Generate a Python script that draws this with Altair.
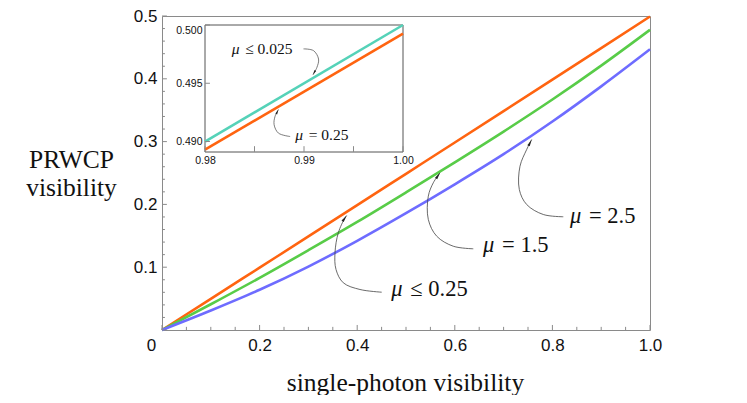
import altair as alt
import pandas as pd

# ---------------- data ----------------
vis_x = [0.0, 0.1, 0.2, 0.3, 0.4, 0.5, 0.6, 0.7, 0.8, 0.9, 1.0]
prwcp_mu_le_025 = [0.0, 0.0496, 0.0993, 0.1490, 0.1988, 0.2487, 0.2986, 0.3486, 0.3987, 0.4489, 0.4992]
prwcp_mu_15 = [0.0, 0.041, 0.083, 0.127, 0.172, 0.219, 0.267, 0.316, 0.367, 0.421, 0.478]
prwcp_mu_25 = [0.0, 0.031, 0.064, 0.101, 0.142, 0.186, 0.232, 0.280, 0.332, 0.388, 0.447]

inset_x = [0.98, 1.00]
inset_mu_le_0025 = [0.4900, 0.5000]
inset_mu_025 = [0.4893, 0.49925]

series_names = ["mu<=0.25", "mu=1.5", "mu=2.5", "mu<=0.025", "mu=0.25"]
series_colors = ["#ff6410", "#58cc48", "#6e6cff", "#55d2b8", "#ff6410"]

main_x_ticks = [0.0, 0.2, 0.4, 0.6, 0.8, 1.0]
main_x_minor = [0.05, 0.1, 0.15, 0.25, 0.3, 0.35, 0.45, 0.5, 0.55, 0.65, 0.7, 0.75, 0.85, 0.9, 0.95]
main_y_ticks = [0.0, 0.1, 0.2, 0.3, 0.4, 0.5]
main_y_minor = [0.02, 0.04, 0.06, 0.08, 0.12, 0.14, 0.16, 0.18, 0.22, 0.24, 0.26, 0.28,
                0.32, 0.34, 0.36, 0.38, 0.42, 0.44, 0.46, 0.48]
inset_x_ticks = [0.98, 0.99, 1.00]
inset_x_minor = [0.985, 0.995]
inset_y_ticks = [0.490, 0.495, 0.500]

# annotation labels (main)
ann_rest = ["≤ 0.25", "= 1.5", "= 2.5"]
ann_x = [0.470, 0.658, 0.836]
ann_y = [0.0645, 0.1346, 0.1823]
# annotation labels (inset)
iann_rest = ["≤ 0.025", "= 0.25"]
iann_x = [0.9827, 0.98911]
iann_y = [0.49795, 0.49058]

# arrow paths (main), last point = tip
arrows_main = [
    ([0.4502, 0.4057, 0.3715, 0.3566, 0.3545, 0.3613, 0.3750, 0.3785],
     [0.0602, 0.0645, 0.0752, 0.0963, 0.1229, 0.1548, 0.1787, 0.1823]),
    ([0.6379, 0.5969, 0.5629, 0.5457, 0.5457, 0.5559, 0.5697],
     [0.1293, 0.1334, 0.1494, 0.1760, 0.2131, 0.2344, 0.2503]),
    ([0.8223, 0.7814, 0.7473, 0.7322, 0.7336, 0.7473, 0.7576],
     [0.1803, 0.1839, 0.1998, 0.2237, 0.2608, 0.2874, 0.3033]),
]
arrow_main_angles = [36, 34, 27]
arrows_inset = [
    ([0.98995, 0.99096, 0.99147, 0.99130, 0.99090],
     [0.49795, 0.49780, 0.49708, 0.49635, 0.49572]),
    ([0.98860, 0.98742, 0.98698, 0.98708, 0.98742],
     [0.49043, 0.49072, 0.49145, 0.49217, 0.49275]),
]
arrow_inset_angles = [209, 26]

# ---------------- tables ----------------
main_df = pd.DataFrame({
    "x": vis_x * 3,
    "y": prwcp_mu_le_025 + prwcp_mu_15 + prwcp_mu_25,
    "series": [series_names[0]] * 11 + [series_names[1]] * 11 + [series_names[2]] * 11,
})
inset_df = pd.DataFrame({
    "x": inset_x * 2,
    "y": inset_mu_le_0025 + inset_mu_025,
    "series": [series_names[3]] * 2 + [series_names[4]] * 2,
})


def path_df(paths):
    rows = []
    for k, (xs, ys) in enumerate(paths):
        for i, (a, b) in enumerate(zip(xs, ys)):
            rows.append({"id": k, "i": i, "x": a, "y": b})
    return pd.DataFrame(rows)


def head_df(paths, angles):
    return pd.DataFrame({"x": [p[0][-1] for p in paths],
                         "y": [p[1][-1] for p in paths],
                         "ang": angles})


W, H = 488, 314
MX = alt.Scale(domain=[0, 1], nice=False, zero=False)
MY = alt.Scale(domain=[0, 0.5], nice=False, zero=False)
IX = alt.Scale(domain=[inset_x[0], inset_x[-1]], range=[43, 241], nice=False, zero=False)
IY = alt.Scale(domain=[0.4891, 0.5], range=[136, 9], nice=False, zero=False)
COL = alt.Scale(domain=series_names, range=series_colors)

SANS = "Liberation Sans"
SERIF = "Liberation Serif"
AXIS_GRAY = "#8a8a8a"
ARROW = "M0,0L0.38,2L-0.38,2Z"

main_lines = alt.Chart(main_df).mark_line(strokeWidth=2.6, interpolate="monotone").encode(
    x=alt.X("x:Q", scale=MX, axis=alt.Axis(
        values=main_x_ticks,
        labelExpr="datum.value == 0 ? '0' : format(datum.value, '.1f')",
        labelOffset={"condition": {"test": "datum.value === 0", "value": -11}, "value": 0},
        ticks=False, domain=False, grid=False, labelFlush=False,
        labelFont=SANS, labelFontSize=17, labelColor="#111",
        labelBaseline="middle", labelPadding=15,
        title="single-photon visibility", titleFont=SERIF, titleFontSize=25.5,
        titleFontWeight="normal", titleColor="#111",
        titleX=243, titleY=52, titleAlign="center", titleBaseline="middle")),
    y=alt.Y("y:Q", scale=MY, axis=alt.Axis(
        values=main_y_ticks,
        labelExpr="datum.value == 0 ? '' : format(datum.value, '.1f')",
        ticks=False, domain=False, grid=False, labelFlush=False,
        labelFont=SANS, labelFontSize=17, labelColor="#111", labelPadding=5,
        title=["PRWCP", "visibility"], titleFont=SERIF, titleFontSize=25.5,
        titleFontWeight="normal", titleColor="#111", titleAngle=0,
        titleX=-91, titleY=131, titleAlign="center", titleBaseline="top",
        titleLineHeight=28)),
    color=alt.Color("series:N", scale=COL, legend=None),
)


def vticks(vals, xscale, yscale, y0, y1):
    return alt.Chart(pd.DataFrame({"v": vals})).mark_rule(color=AXIS_GRAY, strokeWidth=1).encode(
        x=alt.X("v:Q", scale=xscale, axis=None),
        y=alt.YDatum(y0, scale=yscale, axis=None),
        y2=alt.Y2Datum(y1),
    )


def hticks(vals, xscale, yscale, x0, x1):
    return alt.Chart(pd.DataFrame({"v": vals})).mark_rule(color=AXIS_GRAY, strokeWidth=1).encode(
        y=alt.Y("v:Q", scale=yscale, axis=None),
        x=alt.XDatum(x0, scale=xscale, axis=None),
        x2=alt.X2Datum(x1),
    )


xt_major = vticks(main_x_ticks, MX, MY, 0, 0.008)
xt_minor = vticks(main_x_minor, MX, MY, 0, 0.005)
yt_major = hticks(main_y_ticks, MX, MY, 0, 0.01)
yt_minor = hticks(main_y_minor, MX, MY, 0, 0.006)


def arrows_layer(paths, angles, xs, ys, width, size):
    line = alt.Chart(path_df(paths)).mark_line(
        interpolate="catmull-rom", color="#444", strokeWidth=width).encode(
        x=alt.X("x:Q", scale=xs, axis=None),
        y=alt.Y("y:Q", scale=ys, axis=None),
        detail="id:N",
        order="i:Q",
    )
    head = alt.Chart(head_df(paths, angles)).mark_point(
        shape=ARROW, filled=True, color="#222", size=size, opacity=1).encode(
        x=alt.X("x:Q", scale=xs, axis=None),
        y=alt.Y("y:Q", scale=ys, axis=None),
        angle=alt.Angle("ang:Q", scale=None),
    )
    return [line, head]


def label_layers(xv, yv, rest, xs, ys, size, dx):
    df = pd.DataFrame({"x": xv, "y": yv, "rest": rest})
    mu = alt.Chart(df).mark_text(font=SERIF, fontStyle="italic", fontSize=size,
                                 align="left", baseline="middle", color="#111").encode(
        x=alt.X("x:Q", scale=xs, axis=None),
        y=alt.Y("y:Q", scale=ys, axis=None),
        text=alt.value("μ"),
    )
    rt = alt.Chart(df).mark_text(font=SERIF, fontSize=size, align="left",
                                 baseline="middle", color="#111", dx=dx).encode(
        x=alt.X("x:Q", scale=xs, axis=None),
        y=alt.Y("y:Q", scale=ys, axis=None),
        text="rest:N",
    )
    return [mu, rt]


inset_frame = alt.Chart(pd.DataFrame({
    "x": [IX.domain[0]], "x2": [IX.domain[1]], "y": [IY.domain[0]], "y2": [IY.domain[1]]
})).mark_rect(fill="white", fillOpacity=0, stroke="#555", strokeWidth=1).encode(
    x=alt.X("x:Q", scale=IX, axis=None), x2="x2:Q",
    y=alt.Y("y:Q", scale=IY, axis=None), y2="y2:Q",
)

inset_lines = alt.Chart(inset_df).mark_line(strokeWidth=2.6).encode(
    x=alt.X("x:Q", scale=IX, axis=alt.Axis(
        orient="bottom", offset=-178, values=inset_x_ticks, format=".2f",
        ticks=False, domain=False, grid=False, labelFlush=False,
        labelFont=SANS, labelFontSize=10.5, labelColor="#111",
        labelBaseline="middle", labelPadding=8, title=None)),
    y=alt.Y("y:Q", scale=IY, axis=alt.Axis(
        orient="left", offset=-43, values=inset_y_ticks, format=".3f",
        ticks=False, domain=False, grid=False, labelFlush=True,
        labelFont=SANS, labelFontSize=10.5, labelColor="#111",
        labelPadding=3, title=None)),
    color=alt.Color("series:N", scale=COL, legend=None),
)

ixt = vticks(inset_x_ticks + inset_x_minor, IX, IY, IY.domain[0], IY.domain[0] + 0.0005)
iyt = hticks(inset_y_ticks, IX, IY, IX.domain[0], IX.domain[0] + 0.0005)

layers = [main_lines, xt_major, xt_minor, yt_major, yt_minor]
layers += arrows_layer(arrows_main, arrow_main_angles, MX, MY, 0.8, 49)
layers += label_layers(ann_x, ann_y, ann_rest, MX, MY, 22.5, 19)
layers += [inset_frame, inset_lines, ixt, iyt]
layers += arrows_layer(arrows_inset, arrow_inset_angles, IX, IY, 0.7, 25)
layers += label_layers(iann_x, iann_y, iann_rest, IX, IY, 15.5, 13.5)

chart = alt.layer(*layers).resolve_scale(
    x="independent", y="independent"
).properties(
    width=W, height=H,
    autosize=alt.AutoSizeParams(type="none"),
    padding={"left": 154, "top": 8, "right": 89, "bottom": 65},
    background="white",
).configure_view(stroke=AXIS_GRAY, strokeWidth=1)

chart.save("out.html", embed_options={"renderer": "svg", "actions": False})
